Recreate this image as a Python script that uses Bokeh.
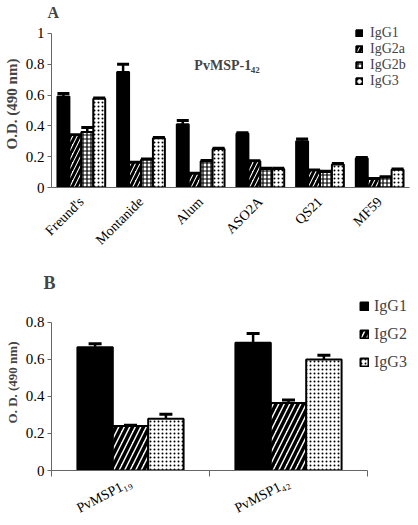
import math
from bokeh.plotting import figure
from bokeh.models import (ColumnDataSource, FactorRange, Range1d, Whisker, TeeHead,
                          Legend, LegendItem, Label, LinearAxis, FixedTicker)
from bokeh.transform import dodge
from bokeh.layouts import column
from bokeh.embed import file_html
from bokeh.resources import INLINE

# ---------------- Panel A data ----------------
adjuvants = ["Freund's", "Montanide", "Alum", "ASO2A", "QS21", "MF59"]
a_igg1 = [0.59, 0.75, 0.41, 0.35, 0.30, 0.19]
a_igg1_sd = [0.02, 0.05, 0.025, 0.005, 0.015, 0.005]
a_igg2a = [0.34, 0.16, 0.09, 0.17, 0.11, 0.055]
a_igg2a_sd = [0.003, 0.003, 0.003, 0.003, 0.003, 0.003]
a_igg2b = [0.36, 0.18, 0.17, 0.12, 0.10, 0.065]
a_igg2b_sd = [0.03, 0.005, 0.005, 0.005, 0.005, 0.005]
a_igg3 = [0.575, 0.32, 0.25, 0.12, 0.15, 0.115]
a_igg3_sd = [0.005, 0.005, 0.005, 0.005, 0.005, 0.005]
a_series = ["IgG1", "IgG2a", "IgG2b", "IgG3"]
a_yticks = [0, 0.2, 0.4, 0.6, 0.8, 1.0]

# ---------------- Panel B data ----------------
antigens = ["PvMSP1\u2081\u2089", "PvMSP1\u2084\u2082"]
b_igg1 = [0.665, 0.69]
b_igg1_sd = [0.02, 0.05]
b_igg2 = [0.24, 0.365]
b_igg2_sd = [0.005, 0.016]
b_igg3 = [0.28, 0.60]
b_igg3_sd = [0.024, 0.022]
b_series = ["IgG1", "IgG2", "IgG3"]
b_yticks = [0, 0.2, 0.4, 0.6, 0.8]

FONT = "Liberation Serif"
AXIS_COLOR = "#666666"
FIG_W = 418
BORDER_L = 51
BORDER_R = 9

# layout (pixels): frames are taller than the drawn axes so legends fit inside
A_FRAME_H, A_AXIS_H = 169, 156
B_FRAME_H, B_AXIS_H = 177, 149

STYLES = {
    "solid": dict(fill_color="black"),
    "diag": dict(fill_color="white", hatch_pattern="/", hatch_color="black"),
    "grid": dict(fill_color="white", hatch_pattern="+", hatch_color="black"),
    "dots": dict(fill_color="white", hatch_pattern=".", hatch_color="black"),
}


def style_y_axis(ax, label, label_size, ticks):
    ax.axis_label = label
    ax.axis_label_text_font = FONT
    ax.axis_label_text_font_style = "bold"
    ax.axis_label_text_font_size = label_size
    ax.axis_label_standoff = 3
    ax.major_label_text_font = FONT
    ax.major_label_text_font_size = "15px"
    ax.major_label_text_color = "black"
    ax.major_label_standoff = 3
    ax.axis_line_color = AXIS_COLOR
    ax.major_tick_line_color = AXIS_COLOR
    ax.major_tick_out = 4
    ax.major_tick_in = 0
    ax.minor_tick_line_color = None
    ax.ticker = FixedTicker(ticks=ticks)
    ax.bounds = (ticks[0], ticks[-1])
    ax.major_label_overrides = {t: ("%g" % t) for t in ticks}


def style_title(p, text, size, offset, standoff):
    p.title.text = text
    p.title.text_font = FONT
    p.title.text_font_size = size
    p.title.text_font_style = "bold"
    p.title.align = "left"
    p.title.offset = offset
    p.title.standoff = standoff


# ======================= Panel A =======================
pA = figure(x_range=FactorRange(*adjuvants),
            y_range=Range1d(0, a_yticks[-1] * A_FRAME_H / A_AXIS_H),
            width=FIG_W, height=255, output_backend="svg", toolbar_location=None,
            min_border_left=BORDER_L, min_border_right=BORDER_R,
            min_border_top=20, min_border_bottom=66)
pA.outline_line_color = None
pA.grid.grid_line_color = None
style_title(pA, "A", "16px", -4, 0)

srcA = ColumnDataSource(dict(cat=adjuvants,
                             igg1=a_igg1, igg1_up=[v + s for v, s in zip(a_igg1, a_igg1_sd)],
                             igg2a=a_igg2a, igg2a_up=[v + s for v, s in zip(a_igg2a, a_igg2a_sd)],
                             igg2b=a_igg2b, igg2b_up=[v + s for v, s in zip(a_igg2b, a_igg2b_sd)],
                             igg3=a_igg3, igg3_up=[v + s for v, s in zip(a_igg3, a_igg3_sd)]))

a_cols = ["igg1", "igg2a", "igg2b", "igg3"]
a_styles = ["solid", "diag", "grid", "dots"]
a_offsets = [-0.3, -0.1, 0.1, 0.3]
a_hatch = {"diag": (9, 3), "grid": (4, 1.2), "dots": (4, 0.9)}
rendA = []
for col, st, off in zip(a_cols, a_styles, a_offsets):
    kw = dict(STYLES[st])
    if st in a_hatch:
        kw["hatch_scale"], kw["hatch_weight"] = a_hatch[st]
    r = pA.vbar(x=dodge("cat", off, range=pA.x_range), top=col, width=0.2, bottom=0,
                source=srcA, line_color="black", line_width=2, **kw)
    rendA.append(r)
    w = Whisker(base=dodge("cat", off, range=pA.x_range), lower=col, upper=col + "_up",
                source=srcA, line_color="black", line_width=2.5,
                upper_head=TeeHead(size=12, line_width=3, line_color="black"), lower_head=None)
    pA.add_layout(w)

style_y_axis(pA.yaxis[0], "O.D. (490 nm)", "15px", a_yticks)

xa = pA.xaxis[0]
xa.axis_line_color = AXIS_COLOR
xa.major_tick_line_color = None
xa.major_label_text_font = FONT
xa.major_label_text_font_size = "14px"
xa.major_label_text_color = "black"
xa.major_label_orientation = math.pi / 4
xa.major_label_standoff = 6

legA = Legend(items=[LegendItem(label=s, renderers=[r]) for s, r in zip(a_series, rendA)],
              location=(304, 98), orientation="vertical",
              glyph_width=8, glyph_height=8, label_standoff=7, spacing=0,
              label_height=15, padding=0, margin=0,
              label_text_font=FONT, label_text_font_size="14px",
              border_line_alpha=0, background_fill_alpha=0)
pA.add_layout(legA)

tA = Label(x=2.87, y=0.79, text="PvMSP-1", text_font=FONT, text_font_style="bold",
           text_font_size="14px", text_align="center", text_baseline="middle")
tA2 = Label(x=2.87, y=0.79, text="42", text_font=FONT, text_font_style="bold",
            text_font_size="9px", text_align="left", text_baseline="middle",
            x_offset=28, y_offset=-4)
pA.add_layout(tA)
pA.add_layout(tA2)

# ======================= Panel B =======================
n_b = len(antigens)
b_pos = [i + 0.5 for i in range(n_b)]      # category centres
FRAME_W = FIG_W - BORDER_L - BORDER_R       # frame shared with panel A
AXIS_W_B = 316                              # panel B's x axis is shorter than its frame
pB = figure(x_range=Range1d(0, n_b * FRAME_W / AXIS_W_B),
            y_range=Range1d(0, b_yticks[-1] * B_FRAME_H / B_AXIS_H),
            width=FIG_W, height=270, output_backend="svg", toolbar_location=None,
            x_axis_location=None,
            min_border_left=BORDER_L, min_border_right=BORDER_R,
            min_border_top=39, min_border_bottom=54)
pB.outline_line_color = None
pB.grid.grid_line_color = None
style_title(pB, "B", "18px", -8, 3)

srcB = ColumnDataSource(dict(x=b_pos, cat=antigens,
                             igg1=b_igg1, igg1_up=[v + s for v, s in zip(b_igg1, b_igg1_sd)],
                             igg2=b_igg2, igg2_up=[v + s for v, s in zip(b_igg2, b_igg2_sd)],
                             igg3=b_igg3, igg3_up=[v + s for v, s in zip(b_igg3, b_igg3_sd)]))
b_cols = ["igg1", "igg2", "igg3"]
b_styles = ["solid", "diag", "dots"]
b_offsets = [-0.224, 0.0, 0.224]
b_hatch = {"diag": (11, 3.5), "dots": (4, 0.9)}
rendB = []
for col, st, off in zip(b_cols, b_styles, b_offsets):
    kw = dict(STYLES[st])
    if st in b_hatch:
        kw["hatch_scale"], kw["hatch_weight"] = b_hatch[st]
    r = pB.vbar(x=dodge("x", off), top=col, width=0.224, bottom=0,
                source=srcB, line_color="black", line_width=2, **kw)
    rendB.append(r)
    w = Whisker(base=dodge("x", off), lower=col, upper=col + "_up",
                source=srcB, line_color="black", line_width=2.5,
                upper_head=TeeHead(size=13, line_width=3, line_color="black"), lower_head=None)
    pB.add_layout(w)

style_y_axis(pB.yaxis[0], "O. D. (490 nm)", "13px", b_yticks)

# x axis: category labels at centres, separator ticks at category boundaries
xb = LinearAxis(ticker=FixedTicker(ticks=b_pos, minor_ticks=list(range(n_b + 1))),
                major_label_overrides={p: name for p, name in zip(b_pos, antigens)},
                bounds=(0, n_b))
xb.axis_line_color = AXIS_COLOR
xb.major_tick_line_color = None
xb.minor_tick_line_color = AXIS_COLOR
xb.minor_tick_out = 6
xb.minor_tick_in = 0
xb.major_label_text_font = FONT
xb.major_label_text_font_size = "14px"
xb.major_label_text_color = "black"
xb.major_label_orientation = 0.48
xb.major_label_standoff = 5
pB.add_layout(xb, "below")

legB = Legend(items=[LegendItem(label=s, renderers=[r]) for s, r in zip(b_series, rendB)],
              location=(308, 98), orientation="vertical",
              glyph_width=10, glyph_height=10, label_standoff=5, spacing=8,
              label_height=20, padding=0, margin=0,
              label_text_font=FONT, label_text_font_size="16px",
              border_line_alpha=0, background_fill_alpha=0)
pB.add_layout(legB)

layout = column(pA, pB)
open("out.html", "w").write(file_html(layout, INLINE))
